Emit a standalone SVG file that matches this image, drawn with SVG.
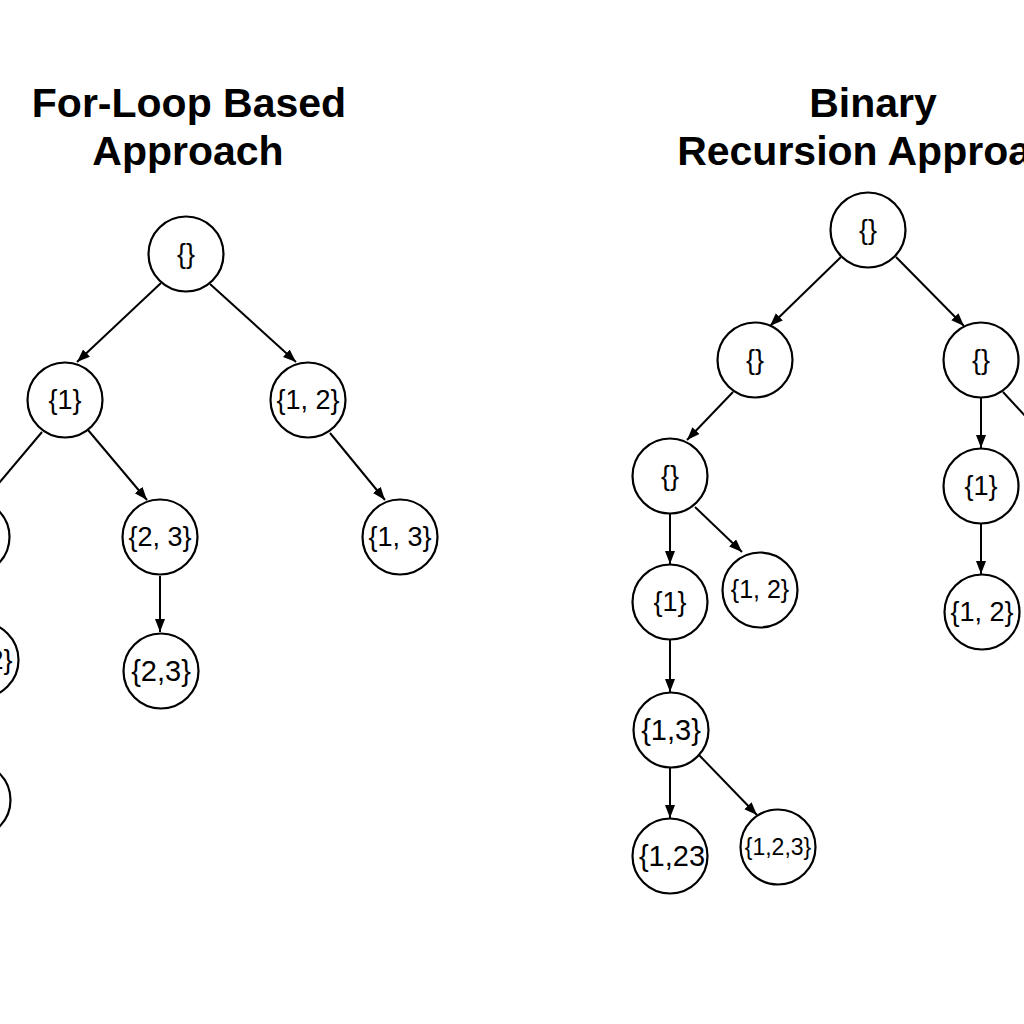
<svg xmlns="http://www.w3.org/2000/svg" width="1024" height="1024" viewBox="0 0 1024 1024">
  <style>
    .node circle { fill: #ffffff; stroke: #000000; stroke-width: 2.2; }
    .node text { font-family: "Liberation Sans", Arial, sans-serif; font-size: 27px; fill: #000000; text-anchor: middle; }
    .title { font-family: "Liberation Sans", Arial, sans-serif; font-size: 41px; font-weight: bold; fill: #000000; text-anchor: middle; }
    .edge { stroke: #000000; stroke-width: 2; fill: none; marker-end: url(#arrow); }
  </style>
  <defs>
    <marker id="arrow" markerUnits="userSpaceOnUse" markerWidth="14" markerHeight="12" refX="13" refY="5" orient="auto">
      <path d="M0,0 L13,5 L0,10 Z" fill="#000000"/>
    </marker>
  </defs>
  <rect width="1024" height="1024" fill="#ffffff"/>

  <g id="titles">
    <text class="title" x="189" y="117">For-Loop Based</text>
    <text class="title" x="188" y="165">Approach</text>
    <text class="title" x="873" y="117">Binary</text>
    <text class="title" x="878" y="165">Recursion Approach</text>
  </g>

  <g id="connectors">
    <!-- left tree -->
    <line class="edge" x1="161" y1="283" x2="77" y2="362"/>
    <line class="edge" x1="210" y1="284" x2="296" y2="362"/>
    <line class="edge" x1="42" y1="432" x2="-22" y2="508"/>
    <line class="edge" x1="88" y1="430" x2="147" y2="500"/>
    <line class="edge" x1="330" y1="433" x2="385" y2="500"/>
    <line class="edge" x1="160" y1="576" x2="160" y2="632"/>
    <!-- right tree -->
    <line class="edge" x1="841" y1="257" x2="770" y2="326"/>
    <line class="edge" x1="896" y1="257" x2="964" y2="326"/>
    <line class="edge" x1="733" y1="392" x2="687" y2="440"/>
    <line class="edge" x1="981" y1="398" x2="981" y2="448"/>
    <line class="edge" x1="1003" y1="392" x2="1040" y2="432"/>
    <line class="edge" x1="981" y1="524" x2="981" y2="574"/>
    <line class="edge" x1="670" y1="514" x2="670" y2="564"/>
    <line class="edge" x1="695" y1="507" x2="742" y2="552"/>
    <line class="edge" x1="670" y1="640" x2="670" y2="692"/>
    <line class="edge" x1="670" y1="768" x2="670" y2="818"/>
    <line class="edge" x1="699" y1="755" x2="757" y2="815"/>
  </g>

  <!-- left tree nodes -->
  <g id="L-root" class="node"><circle cx="186" cy="254" r="37.5"/><text x="186" y="263">{}</text></g>
  <g id="L-1" class="node"><circle cx="65" cy="400" r="37.5"/><text x="65" y="409">{1}</text></g>
  <g id="L-12" class="node"><circle cx="308" cy="400" r="37.5"/><text x="308" y="409">{1, 2}</text></g>
  <g id="L-a" class="node"><circle cx="-28" cy="537" r="37.5"/></g>
  <g id="L-23" class="node"><circle cx="160" cy="537" r="37.5"/><text x="160" y="546">{2, 3}</text></g>
  <g id="L-13" class="node"><circle cx="400" cy="537" r="37.5"/><text x="400" y="546">{1, 3}</text></g>
  <g id="L-b" class="node"><circle cx="-19" cy="660" r="37.5"/><text x="-19" y="669">{1, 2}</text></g>
  <g id="L-23b" class="node"><circle cx="161" cy="671" r="37.5"/><text x="161" y="681" style="font-size:29px">{2,3}</text></g>
  <g id="L-c" class="node"><circle cx="-27" cy="800" r="37.5"/></g>

  <!-- right tree nodes -->
  <g id="R-root" class="node"><circle cx="868" cy="230" r="37.5"/><text x="868" y="239">{}</text></g>
  <g id="R-L" class="node"><circle cx="755" cy="360" r="37.5"/><text x="755" y="369">{}</text></g>
  <g id="R-R" class="node"><circle cx="981" cy="360" r="37.5"/><text x="981" y="369">{}</text></g>
  <g id="R-LL" class="node"><circle cx="670" cy="476" r="37.5"/><text x="670" y="485">{}</text></g>
  <g id="R-R1" class="node"><circle cx="981" cy="486" r="37.5"/><text x="981" y="495">{1}</text></g>
  <g id="R-LL1" class="node"><circle cx="670" cy="602" r="37.5"/><text x="670" y="611">{1}</text></g>
  <g id="R-LL12" class="node"><circle cx="760" cy="590" r="37.5"/><text x="760" y="598" style="font-size:25px">{1, 2}</text></g>
  <g id="R-R12" class="node"><circle cx="982" cy="612" r="37.5"/><text x="982" y="621">{1, 2}</text></g>
  <g id="R-13" class="node"><circle cx="671" cy="730" r="37.5"/><text x="671" y="740" style="font-size:29px">{1,3}</text></g>
  <g id="R-123a" class="node"><circle cx="670" cy="856" r="37.5"/><text x="672" y="866" style="font-size:29px">{1,23</text></g>
  <g id="R-123b" class="node"><circle cx="778" cy="847" r="37.5"/><text x="778" y="855" style="font-size:23px">{1,2,3}</text></g>
</svg>
